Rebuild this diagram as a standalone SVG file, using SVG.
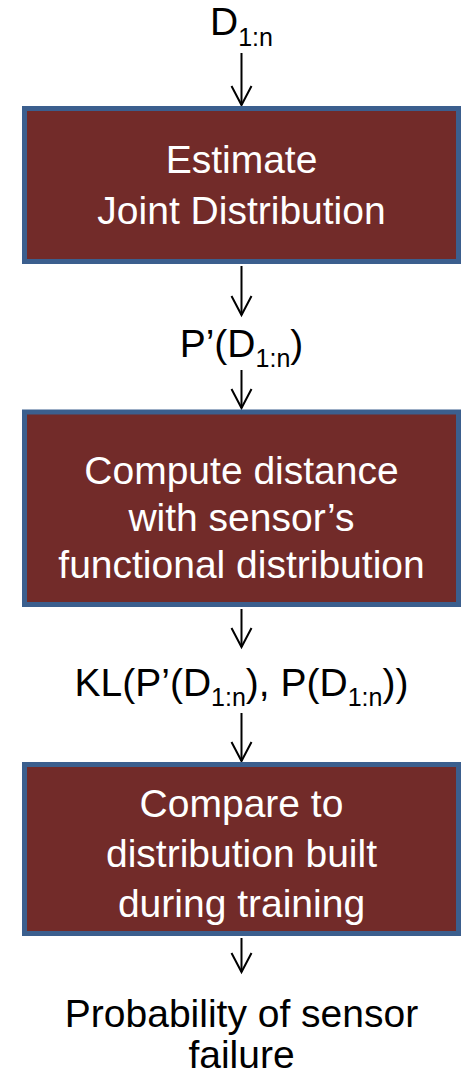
<svg xmlns="http://www.w3.org/2000/svg" width="462" height="1078" viewBox="0 0 462 1078">
<style>
.box{fill:#722B29;stroke:#3B5F8E;stroke-width:5}
.bt{font-family:"Liberation Sans",Arial,sans-serif;font-size:39px;fill:#FFFFFF;text-anchor:middle}
.lt{font-family:"Liberation Sans",Arial,sans-serif;font-size:39px;fill:#000000;text-anchor:middle}
.sub{font-size:25px}
.conn{stroke:#000;stroke-width:2;fill:none}
</style>
<defs>
<marker id="ah" markerUnits="userSpaceOnUse" markerWidth="30" markerHeight="30" viewBox="-15 -25 30 30" refX="0" refY="0" orient="auto-start-reverse" overflow="visible">
<path d="M-10,-19 L0,0 L10,-19" fill="none" stroke="#000" stroke-width="2" transform="rotate(-90)"/>
</marker>
</defs>
<rect width="462" height="1078" fill="#FFFFFF"/>
<g id="connectors">
<line class="conn" x1="241.5" y1="53" x2="241.5" y2="105" marker-end="url(#ah)"/>
<line class="conn" x1="241.5" y1="266" x2="241.5" y2="315" marker-end="url(#ah)"/>
<line class="conn" x1="241.5" y1="370" x2="241.5" y2="408" marker-end="url(#ah)"/>
<line class="conn" x1="241.5" y1="609" x2="241.5" y2="647" marker-end="url(#ah)"/>
<line class="conn" x1="241.5" y1="713" x2="241.5" y2="761" marker-end="url(#ah)"/>
<line class="conn" x1="241.5" y1="938" x2="241.5" y2="972" marker-end="url(#ah)"/>
</g>
<g id="label-input">
<text class="lt" x="241.5" y="35">D<tspan class="sub" dy="11">1:n</tspan></text>
</g>
<g id="node-estimate">
<rect class="box" x="24.5" y="108.5" width="434" height="153"/>
<text class="bt" x="241.5" y="173">Estimate</text>
<text class="bt" x="241.5" y="224">Joint Distribution</text>
</g>
<g id="label-p">
<text class="lt" x="241.5" y="357">P’(D<tspan class="sub" dy="10">1:n</tspan><tspan dy="-10">)</tspan></text>
</g>
<g id="node-compute">
<rect class="box" x="24.5" y="412" width="434" height="192.5"/>
<text class="bt" x="241.5" y="484">Compute distance</text>
<text class="bt" x="241.5" y="531">with sensor’s</text>
<text class="bt" x="241.5" y="578">functional distribution</text>
</g>
<g id="label-kl">
<text class="lt" x="241.5" y="696">KL(P’(D<tspan class="sub" dy="10">1:n</tspan><tspan dy="-10">), P(D</tspan><tspan class="sub" dy="10">1:n</tspan><tspan dy="-10">))</tspan></text>
</g>
<g id="node-compare">
<rect class="box" x="24.5" y="764.5" width="434" height="169"/>
<text class="bt" x="241.5" y="817">Compare to</text>
<text class="bt" x="241.5" y="867">distribution built</text>
<text class="bt" x="241.5" y="917">during training</text>
</g>
<g id="label-output">
<text class="lt" x="241.5" y="1027">Probability of sensor</text>
<text class="lt" x="241.5" y="1068">failure</text>
</g>
</svg>
